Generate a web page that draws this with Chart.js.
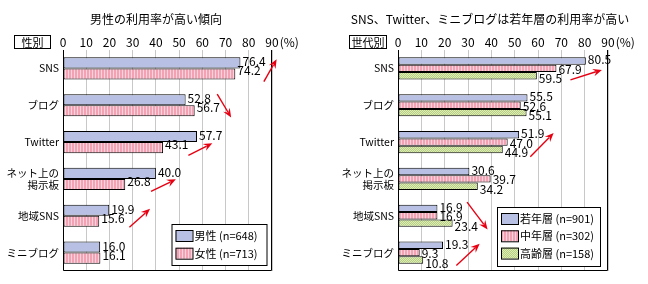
<!DOCTYPE html>
<html>
<head>
<meta charset="utf-8" />
<title>SNS・ブログ利用率</title>
<script src="https://cdn.jsdelivr.net/npm/chart.js@4"></script>
<style>
  body { margin: 0; background: #fff; }
  .panel { position: absolute; top: 0; width: 324px; height: 284px; }
</style>
</head>
<body>
<div class="panel" style="left:0"><canvas id="genderChart" width="324" height="284"></canvas></div>
<div class="panel" style="left:324px"><canvas id="ageChart" width="324" height="284"></canvas></div>
<script>
// data
const categories = ["SNS", "ブログ", "Twitter", ["ネット上の", "掲示板"], "地域SNS", "ミニブログ"];
const xTicks = [0, 10, 20, 30, 40, 50, 60, 70, 80, 90];

const maleValues   = [76.4, 52.8, 57.7, 40.0, 19.9, 16.0];
const femaleValues = [74.2, 56.7, 43.1, 26.8, 15.6, 16.1];
const genderLegend = ["男性 (n=648)", "女性 (n=713)"];

const youngValues  = [80.5, 55.5, 51.9, 30.6, 16.9, 19.3];
const middleValues = [67.9, 52.6, 47.0, 39.7, 16.9, 9.3];
const olderValues  = [59.5, 55.1, 44.9, 34.2, 23.4, 10.8];
const ageLegend = ["若年層 (n=901)", "中年層 (n=302)", "高齢層 (n=158)"];

// red arrows: [fromValue, fromCategory, toValue, toCategory]
const genderArrows = [[86.5, 0.36, 92, -0.25], [66.4, 0.70, 72.4, 1.33], [54, 2.36, 64.3, 2.03], [37.9, 3.34, 48.6, 3.01], [28.6, 4.31, 37.5, 3.81]];
const ageArrows = [[73.9, 0.31, 87.4, 0.04], [56.7, 2.40, 66.7, 1.75], [29.6, 3.63, 38.4, 4.37], [25, 5.35, 35, 4.76]];

const FONT = '"Noto Sans CJK JP", "Noto Sans", sans-serif';

function stripes() {
  const c = document.createElement("canvas");
  c.width = 3; c.height = 1;
  const g = c.getContext("2d");
  g.fillStyle = "#f3a2b4"; g.fillRect(0, 0, 3, 1);
  g.fillStyle = "#fbd3dc"; g.fillRect(2, 0, 1, 1);
  return g.createPattern(c, "repeat");
}
function checks() {
  const c = document.createElement("canvas");
  c.width = 2; c.height = 2;
  const g = c.getContext("2d");
  g.fillStyle = "#b6d07c"; g.fillRect(0, 0, 2, 2);
  g.fillStyle = "#deebbd"; g.fillRect(0, 0, 1, 1); g.fillRect(1, 1, 1, 1);
  return g.createPattern(c, "repeat");
}
const blue = "#b8c1e3";

function drawArrow(c, x1, y1, x2, y2) {
  const a = Math.atan2(y2 - y1, x2 - x1), L = 9, W = 3.8;
  const cs = Math.cos(a), sn = Math.sin(a);
  c.strokeStyle = c.fillStyle = "#e60012";
  c.lineWidth = 1.4;
  c.beginPath(); c.moveTo(x1, y1); c.lineTo(x2 - L * 0.7 * cs, y2 - L * 0.7 * sn); c.stroke();
  c.beginPath();
  c.moveTo(x2, y2);
  c.lineTo(x2 - L * cs + W * sn, y2 - L * sn - W * cs);
  c.lineTo(x2 - L * 0.65 * cs, y2 - L * 0.65 * sn);
  c.lineTo(x2 - L * cs - W * sn, y2 - L * sn + W * cs);
  c.closePath(); c.fill();
}

function makeDeco(cfg) {
  return {
    id: "deco",
    afterDraw(chart) {
      const c = chart.ctx, area = chart.chartArea;
      const xs = chart.scales.x, ys = chart.scales.y;
      c.save();
      c.fillStyle = "#000";
      c.textBaseline = "middle";

      // title
      c.font = "12px " + FONT;
      c.textAlign = "center";
      c.fillText(cfg.title, cfg.titleX, 19);

      // boxed label
      c.font = "11px " + FONT;
      c.strokeStyle = "#000"; c.lineWidth = 1;
      c.strokeRect(cfg.box[0] + 0.5, 35.5, cfg.box[1], 13);
      c.fillText(cfg.boxLabel, cfg.box[0] + cfg.box[1] / 2 + 0.5, 42.5);

      // (%) after last tick
      c.font = "12px " + FONT;
      c.textAlign = "left";
      c.fillText("(%)", xs.getPixelForValue(90) + c.measureText("90").width / 2 + 1, area.top - 7.2);

      // frame
      c.strokeStyle = "#000"; c.lineWidth = 1;
      c.beginPath();
      c.moveTo(area.left + 0.5, area.top);
      c.lineTo(area.left + 0.5, area.bottom - 0.5);
      c.lineTo(area.right - 0.5, area.bottom - 0.5);
      c.lineTo(area.right - 0.5, area.top);
      c.stroke();

      // value labels
      c.font = "12px " + FONT;
      chart.data.datasets.forEach((ds, i) => {
        const meta = chart.getDatasetMeta(i);
        meta.data.forEach((bar, j) => {
          const y = ys.getPixelForValue(j) + cfg.labelOffsets[i];
          c.fillStyle = "#000";
          c.fillText(ds.data[j].toFixed(1), bar.x + 2, y);
        });
      });

      // legend
      const lg = cfg.legendBox;
      c.fillStyle = "#fff";
      c.fillRect(lg.x, lg.y, lg.w, lg.h);
      c.strokeRect(lg.x + 0.5, lg.y + 0.5, lg.w, lg.h);
      c.font = "11px " + FONT;
      chart.data.datasets.forEach((ds, i) => {
        const ry = lg.y + lg.first + i * lg.step;
        c.fillStyle = ds.backgroundColor;
        c.fillRect(lg.x + 4, ry, 17, 11);
        c.strokeRect(lg.x + 4.5, ry + 0.5, 17, 11);
        c.fillStyle = "#000";
        c.fillText(ds.label, lg.x + 23, ry + 6);
      });

      // arrows
      cfg.arrows.forEach(([v1, k1, v2, k2]) => {
        drawArrow(c, xs.getPixelForValue(v1), ys.getPixelForValue(k1), xs.getPixelForValue(v2), ys.getPixelForValue(k2));
      });
      c.restore();
    }
  };
}

function makeChart(id, cfg) {
  return new Chart(document.getElementById(id), {
    type: "bar",
    data: {
      labels: categories,
      datasets: cfg.series.map((s, i) => ({
        label: cfg.legend[i],
        data: s,
        backgroundColor: cfg.fills[i],
        borderColor: "#000",
        borderWidth: 1,
        borderSkipped: false,
        categoryPercentage: 0.6,
        barPercentage: 1
      }))
    },
    options: {
      indexAxis: "y",
      responsive: false,
      animation: false,
      layout: { padding: { left: 0, right: cfg.padRight, top: 0, bottom: 13 } },
      plugins: { legend: { display: false }, tooltip: { enabled: false } },
      scales: {
        x: {
          position: "top",
          min: 0,
          max: 90,
          afterBuildTicks: s => { s.ticks = xTicks.map(v => ({ value: v })); },
          ticks: { font: { family: FONT, size: 12 }, color: "#000", padding: 0, maxRotation: 0 },
          grid: { color: "#c8c8c8", drawTicks: false },
          border: { display: false },
          afterFit: s => { s.height = 50; }
        },
        y: {
          ticks: { font: { family: FONT, size: 10.5, lineHeight: 1.15 }, color: "#000", padding: 4, autoSkip: false },
          grid: { display: false, drawTicks: false },
          border: { display: false },
          afterFit: s => { s.width = cfg.plotLeft; }
        }
      }
    },
    plugins: [makeDeco(cfg)]
  });
}

makeChart("genderChart", {
  series: [maleValues, femaleValues],
  legend: genderLegend,
  fills: [blue, stripes()],
  title: "男性の利用率が高い傾向",
  titleX: 156,
  boxLabel: "性別",
  box: [14, 36],
  plotLeft: 63,
  padRight: 52,
  labelOffsets: [-6.5, 2.5],
  legendBox: { x: 171.5, y: 224, w: 95, h: 41, first: 6, step: 17.7 },
  arrows: genderArrows
});

makeChart("ageChart", {
  series: [youngValues, middleValues, olderValues],
  legend: ageLegend,
  fills: [blue, stripes(), checks()],
  title: "SNS、Twitter、ミニブログは若年層の利用率が高い",
  titleX: 166,
  boxLabel: "世代別",
  box: [25, 37],
  plotLeft: 74,
  padRight: 40,
  labelOffsets: [-8.5, 1, 10.5],
  legendBox: { x: 173, y: 207, w: 103, h: 59, first: 6, step: 17.3 },
  arrows: ageArrows
});
</script>
</body>
</html>
